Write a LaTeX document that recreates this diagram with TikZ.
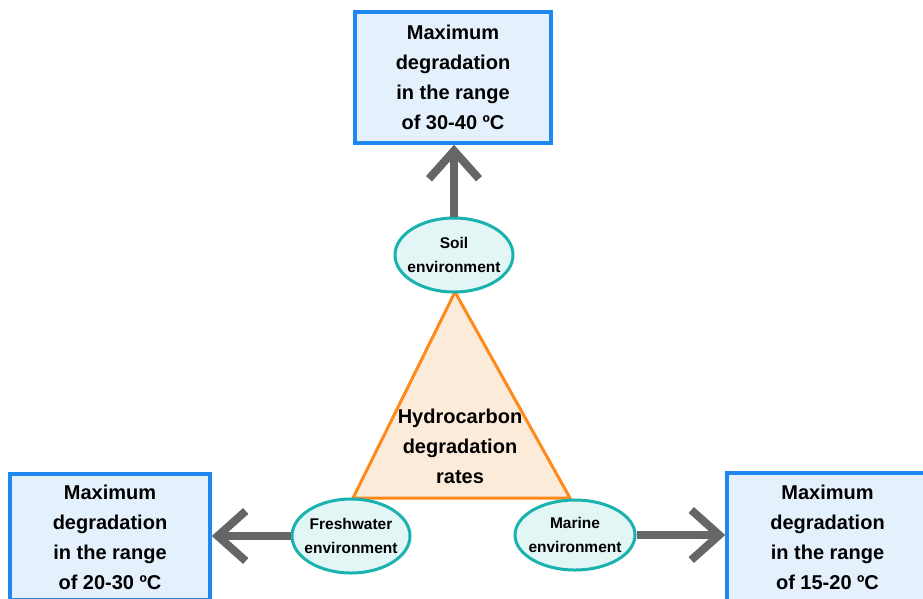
\documentclass[tikz,border=0pt]{standalone}
\usepackage{fontspec}
\setmainfont{Liberation Sans}
\usetikzlibrary{arrows.meta,shapes.geometric}
\definecolor{boxblue}{HTML}{1E88F0}
\definecolor{boxfill}{HTML}{E4F1FD}
\definecolor{ellteal}{HTML}{1AB2AE}
\definecolor{ellfill}{HTML}{E2F6F6}
\definecolor{triorange}{HTML}{FF8A1C}
\definecolor{trifill}{HTML}{FDEBDA}
\definecolor{arrgray}{HTML}{666666}
\tikzset{
  resbox/.style={draw=boxblue, line width=3.5pt, fill=boxfill, inner sep=0pt,
    align=center, font=\bfseries\fontsize{20}{30}\selectfont},
  envell/.style={ellipse, draw=ellteal, line width=3pt, fill=ellfill,
    inner xsep=-8pt, inner ysep=0pt,
    align=center, font=\bfseries\fontsize{15.5}{24}\selectfont},
  bigarrow/.style={draw=arrgray, line width=8pt,
    -{Straight Barb[length=28pt,width=50pt]}},
  trishape/.style={draw=triorange, line width=3pt, fill=trifill, line join=miter},
  tritext/.style={align=center, font=\bfseries\fontsize{20}{30}\selectfont}
}
\begin{document}
\begin{tikzpicture}[x=1pt,y=-1pt]
\clip (0,0) rectangle (923,598);
% result boxes
\node[resbox, minimum width=196pt, minimum height=131pt] (top) at (453,77.5)
  {Maximum\\degradation\\in the range\\of 30-40 ºC};
\node[resbox, minimum width=200pt, minimum height=126pt] (left) at (110,537)
  {Maximum\\degradation\\in the range\\of 20-30 ºC};
\node[resbox, minimum width=201pt, minimum height=128pt] (right) at (827.5,537)
  {Maximum\\degradation\\in the range\\of 15-20 ºC};
% triangle
\coordinate (tA) at (455,292);
\coordinate (tB) at (353,498);
\coordinate (tC) at (570,498);
\draw[trishape] (tA) -- (tB) -- (tC) -- cycle;
\node[tritext] (hc) at (460,446) {Hydrocarbon\\degradation\\rates};
% environments
\node[envell, minimum width=118pt, minimum height=74pt] (soil) at (454,255)
  {Soil\\environment};
\node[envell, minimum width=118pt, minimum height=74pt] (fresh) at (351,536)
  {Freshwater\\environment};
\node[envell, minimum width=120pt, minimum height=70pt] (marine) at (575,535)
  {Marine\\environment};
% arrows
\draw[bigarrow] (soil.north) -- (soil.north |- top.south);
\draw[bigarrow] (fresh.west) -- (fresh.west -| left.east);
\draw[bigarrow] (marine.east) -- (marine.east -| right.west);
\end{tikzpicture}
\end{document}
